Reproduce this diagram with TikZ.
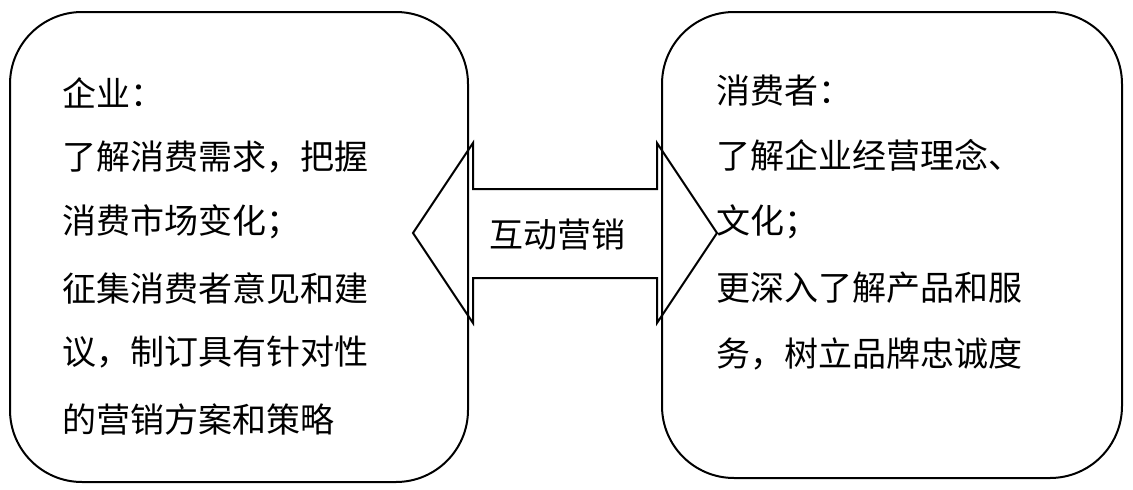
\documentclass[tikz,border=0pt]{standalone}
\usepackage{fontspec}
\setmainfont{Noto Sans CJK SC}
\begin{document}
\begin{tikzpicture}[x=1pt,y=-1pt,
  frame/.style={draw=black,line width=2pt,rounded corners=72pt},
  txt/.style={anchor=west,inner sep=0pt,font=\fontsize{34pt}{40pt}\selectfont},
  arrowline/.style={draw=black,line width=2pt,line join=miter}]
\useasboundingbox (0,0) rectangle (1133,490);
\fill[white] (0,0) rectangle (1133,490);
% boxes
\draw[frame] (10,12) rectangle (468,482);
\draw[frame] (662,12) rectangle (1122,478);
% double arrow
\draw[arrowline] (413,233) -- (473,143) -- (473,189) -- (657,189) -- (657,143)
  -- (717,233) -- (657,323) -- (657,278) -- (473,278) -- (473,323) -- cycle;
\node[inner sep=0pt,font=\fontsize{34pt}{40pt}\selectfont] (mid) at (557,235) {互动营销};
% left text
\node[txt] (l1) at (62,93) {企业：};
\node[txt] (l2) at (62,157) {了解消费需求，把握};
\node[txt] (l3) at (62,222) {消费市场变化；};
\node[txt] (l4) at (62,288) {征集消费者意见和建};
\node[txt] (l5) at (62,352) {议，制订具有针对性};
\node[txt] (l6) at (62,420) {的营销方案和策略};
% right text
\node[txt] (r1) at (716,91) {消费者：};
\node[txt] (r2) at (716,155) {了解企业经营理念、};
\node[txt] (r3) at (716,222) {文化；};
\node[txt] (r4) at (716,288) {更深入了解产品和服};
\node[txt] (r5) at (716,354) {务，树立品牌忠诚度};
\end{tikzpicture}
\end{document}
